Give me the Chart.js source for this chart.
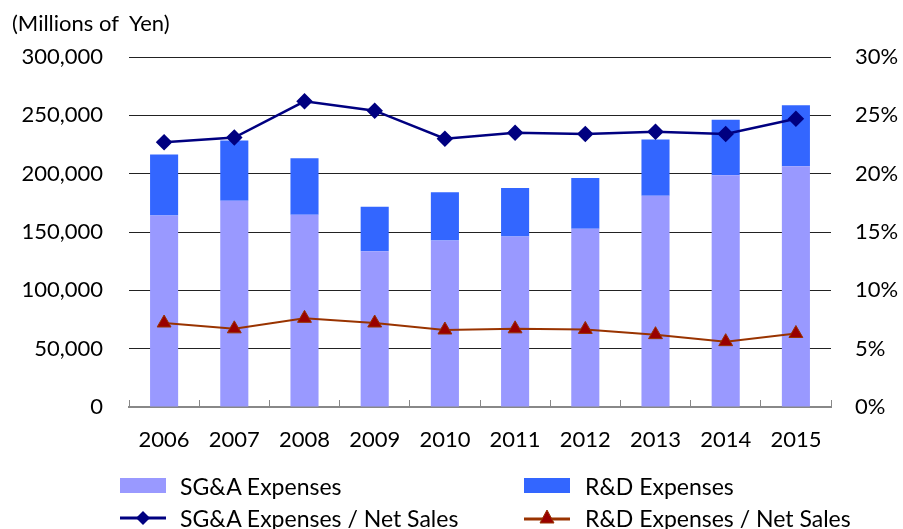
<!DOCTYPE html>
<html>
<head>
<meta charset="utf-8">
<script src="https://cdn.jsdelivr.net/npm/chart.js@4/dist/chart.umd.min.js"></script>
<style>
  html,body{margin:0;padding:0;background:#fff}
  #wrap{position:relative;width:903px;height:529px;font-family:Lato,sans-serif;color:#000}
  #unit{position:absolute;left:12px;top:9px;font-size:22px;white-space:pre;line-height:28px}
  .lg{position:absolute;font-size:23px;line-height:28px;white-space:nowrap}
  .sw{position:absolute;width:46px;height:15px}
  .ic{position:absolute}
</style>
</head>
<body>
<div id="wrap">
  <canvas id="main-chart" width="903" height="529"></canvas>
  <div id="unit">(Millions of  Yen)</div>
  <div class="sw" style="left:120px;top:478px;background:#9999FF"></div>
  <div class="lg" style="left:180px;top:472px">SG&amp;A Expenses</div>
  <div class="sw" style="left:524px;top:478px;background:#3366FF"></div>
  <div class="lg" style="left:585px;top:472px">R&amp;D Expenses</div>
  <svg class="ic" style="left:120px;top:508px" width="46" height="20">
    <line x1="0" y1="10" x2="46" y2="10" stroke="#000080" stroke-width="3"/>
    <polygon points="23,3 30,10 23,17 16,10" fill="#000080"/>
  </svg>
  <div class="lg" style="left:180px;top:504px">SG&amp;A Expenses / Net Sales</div>
  <svg class="ic" style="left:524px;top:508px" width="46" height="20">
    <line x1="0" y1="11" x2="46" y2="11" stroke="#993300" stroke-width="3"/>
    <polygon points="23,2 30,15 16,15" fill="#990000" stroke="#993300" stroke-width="1"/>
  </svg>
  <div class="lg" style="left:585px;top:504px">R&amp;D Expenses / Net Sales</div>
</div>
<script>
/* SG&A / R&D expenses with ratios to net sales */

var years=['2006','2007','2008','2009','2010','2011','2012','2013','2014','2015'];
var sgaExp=[164200,176700,164800,133600,142700,146100,152800,181100,198600,206300];
var rdExp=[52200,51700,48400,38100,41300,41600,43500,48200,47600,52400];
var sgaRatio=[22.7,23.1,26.2,25.4,23.0,23.5,23.4,23.6,23.4,24.7];
var rdRatio=[7.2,6.7,7.6,7.2,6.6,6.7,6.65,6.2,5.6,6.3];

var FONT={family:'Lato',size:22};

var ctx=document.getElementById('main-chart').getContext('2d');
var mainChart=new Chart(ctx,{
  type:'bar',
  data:{
    labels:years,
    datasets:[
      {type:'line',label:'SG&A Expenses / Net Sales',data:sgaRatio,yAxisID:'y1',order:0,
        borderColor:'#000080',borderWidth:2.5,pointStyle:'rectRot',pointRadius:6.5,
        pointBackgroundColor:'#000080',pointBorderColor:'#000080',tension:0},
      {type:'line',label:'R&D Expenses / Net Sales',data:rdRatio,yAxisID:'y1',order:0,
        borderColor:'#993300',borderWidth:2,pointStyle:'triangle',pointRadius:8,
        pointBackgroundColor:'#990000',pointBorderColor:'#993300',pointBorderWidth:1,tension:0},
      {label:'SG&A Expenses',data:sgaExp,yAxisID:'y',order:1,backgroundColor:'#9999FF',
        barPercentage:0.4,categoryPercentage:1.0},
      {label:'R&D Expenses',data:rdExp,yAxisID:'y',order:1,backgroundColor:'#3366FF',
        barPercentage:0.4,categoryPercentage:1.0}
    ]
  },
  options:{
    responsive:false,
    animation:false,
    layout:{padding:{top:57,left:0,right:0,bottom:0}},
    plugins:{legend:{display:false},tooltip:{enabled:false}},
    scales:{
      x:{
        stacked:true,
        afterFit:function(s){s.height=122},
        grid:{display:true,offset:true,drawOnChartArea:false,drawTicks:true,tickLength:-7,color:'#888',lineWidth:1},
        border:{display:true,color:'#888',width:2},
        ticks:{color:'#000',font:FONT,padding:27}
      },
      y:{
        stacked:true,
        position:'left',
        min:0,max:300000,
        afterFit:function(s){s.width=129},
        grid:{drawTicks:false,color:function(c){return c.tick&&c.tick.value===0?'rgba(0,0,0,0)':'#222'},lineWidth:1},
        border:{display:false},
        ticks:{stepSize:50000,color:'#000',font:FONT,padding:26,
          callback:function(v){return v.toLocaleString('en-US')}}
      },
      y1:{
        position:'right',
        min:0,max:30,
        afterFit:function(s){s.width=72},
        grid:{display:false,drawTicks:false},
        border:{display:false},
        ticks:{stepSize:5,color:'#000',font:FONT,padding:24,
          callback:function(v){return v+'%'}}
      }
    }
  }
});
</script>
</body>
</html>
